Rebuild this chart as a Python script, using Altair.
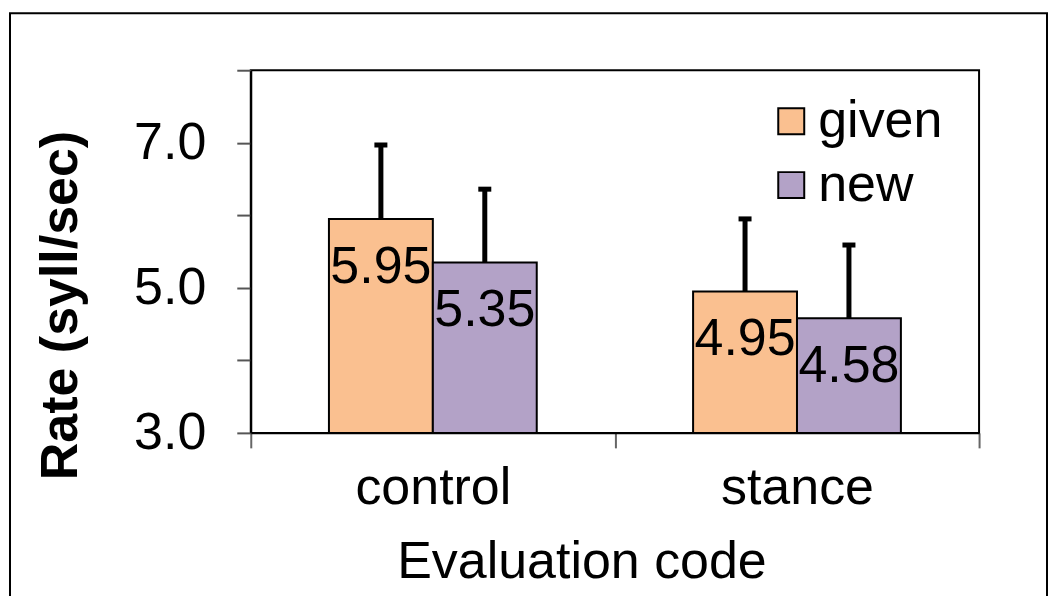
import altair as alt
import pandas as pd

categories = ["control", "control", "stance", "stance"]
groups = ["given", "new", "given", "new"]
means = [5.95, 5.35, 4.95, 4.58]
errors = [1.02, 1.01, 1.00, 1.01]
colors = ["#FAC090", "#B3A2C7"]
FONT = "Liberation Sans"

df = pd.DataFrame({"cat": categories, "grp": groups, "mean": means, "err": errors})
df["top"] = df["mean"] + df["err"]
df["label"] = df["mean"].map(lambda v: f"{v:.2f}")

xenc = alt.X("cat:N", scale=alt.Scale(paddingInner=0, paddingOuter=0),
             axis=alt.Axis(title="Evaluation code", labelAngle=0, tickBand="extent",
                           tickSize=15, tickColor="#666666", tickWidth=2,
                           domainColor="black", domainWidth=2,
                           labelFontSize=52, labelColor="black", labelFont=FONT,
                           labelPadding=15,
                           titleFontSize=52, titleFont=FONT, titleFontWeight="normal",
                           titleColor="black", titleX=331, titleY=145,
                           titleBaseline="alphabetic", titleAlign="center"))
xoff = alt.XOffset("grp:N", scale=alt.Scale(paddingInner=0, paddingOuter=0.7524))
yscale = alt.Scale(domain=[3, 8], nice=False, zero=False)

bars = alt.Chart(df).mark_bar(stroke="black", strokeWidth=2).encode(
    x=xenc,
    xOffset=xoff,
    y=alt.Y("mean:Q", scale=yscale,
            axis=alt.Axis(title="Rate (syll/sec)", values=[3, 4, 5, 6, 7, 8],
                          labelExpr="datum.value % 2 == 1 ? format(datum.value, '.1f') : ''",
                          grid=False, tickSize=14, tickColor="#555555", tickWidth=2,
                          domainColor="black", domainWidth=2,
                          labelFontSize=52, labelFont=FONT, labelColor="black",
                          labelPadding=31, labelBaseline="middle",
                          titleFontSize=52, titleFont=FONT, titleFontWeight="bold",
                          titleColor="black", titleAngle=270, titleX=-190, titleY=235,
                          titleAlign="center", titleBaseline="middle")),
    y2=alt.datum(3),
    color=alt.Color("grp:N", scale=alt.Scale(domain=["given", "new"], range=colors),
                    legend=alt.Legend(title=None, orient="none", legendX=515, legendY=25,
                                      symbolType="square", symbolSize=676,
                                      symbolStrokeColor="black", symbolStrokeWidth=2,
                                      labelFontSize=52, labelFont=FONT, labelColor="black",
                                      labelOffset=1, rowPadding=12, padding=0,
                                      labelLimit=400)),
)

stems = alt.Chart(df).mark_rule(color="black", strokeWidth=5).encode(
    x="cat:N", xOffset=xoff, y=alt.Y("mean:Q", scale=yscale), y2="top:Q"
)
caps = alt.Chart(df).mark_tick(color="black", thickness=5, size=13, opacity=1).encode(
    x="cat:N", xOffset=xoff, y=alt.Y("top:Q", scale=yscale)
)
labels = alt.Chart(df).mark_text(fontSize=52, font=FONT, color="black",
                                 baseline="alphabetic", dy=64).encode(
    x="cat:N", xOffset=xoff, y=alt.Y("mean:Q", scale=yscale), text="label:N"
)
frame = alt.Chart(alt.Data(values=[{}])).mark_rect(fill=None, stroke="black", strokeWidth=2).encode(
    x=alt.value(-241), x2=alt.value(797), y=alt.value(-57), y2=alt.value(620)
)

chart = alt.layer(frame, bars, stems, caps, labels).properties(
    width=729, height=363,
    background="white",
    autosize=alt.AutoSizeParams(type="none"),
    padding={"left": 243, "top": 62, "right": 70, "bottom": 163},
).configure_view(stroke="black", strokeWidth=2)

chart.save("out.html", embed_options={"renderer": "svg", "actions": False})
